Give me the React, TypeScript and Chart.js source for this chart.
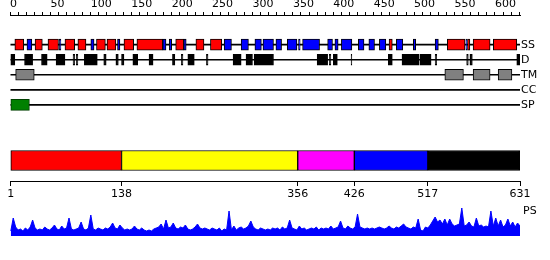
import React, { useEffect, useRef } from 'react';
import { Chart, registerables } from 'chart.js';

Chart.register(...registerables);

// ---------------- data ----------------
const SEQ_LENGTH = 631;
const trackNames = ['SS', 'D', 'TM', 'CC', 'SP'];

// secondary structure: helices (red) and strands (blue), [start, end] residues
const helices: [number, number][] = [
  [6, 17], [31, 40], [47, 60], [68, 80], [84, 94], [107, 118], [120, 131],
  [141, 153], [157, 189], [205, 215], [230, 240], [248, 262], [469, 473],
  [541, 563], [566, 569], [573, 594], [598, 627],
];
const strands: [number, number][] = [
  [21, 27], [61, 63], [100, 104], [133, 136], [189, 193], [197, 200],
  [215, 218], [265, 274], [286, 295], [303, 311], [313, 326], [329, 336],
  [343, 355], [357, 359], [362, 383], [393, 399], [402, 406], [410, 423],
  [431, 438], [444, 451], [457, 465], [478, 486], [499, 502], [526, 530],
  [564, 565],
];
// disordered regions
const disorder: [number, number][] = [
  [1, 6], [18, 28], [39, 46], [57, 68], [78, 80], [82, 84], [92, 108],
  [116, 119], [131, 134], [138, 141], [152, 158], [172, 177], [201, 204],
  [212, 214], [220, 228], [243, 245], [276, 286], [292, 300], [302, 326],
  [380, 393], [395, 397], [400, 405], [422, 423], [468, 473], [485, 506],
  [507, 521], [526, 528], [565, 567], [569, 572], [627, 631],
];
// transmembrane segments
const transmembrane: [number, number][] = [[7, 30], [538, 561], [573, 594], [604, 621]];
// coiled coils (none)
const coiledCoil: [number, number][] = [];
// signal peptide
const signalPeptide: [number, number][] = [[1, 24]];

// domain boundaries and colours
const domainBounds = [1, 138, 356, 426, 517, 631];
const domainColors = ['#ff0000', '#ffff00', '#ff00ff', '#0000ff', '#000000'];

// top ruler
const rulerStep = 10;
const rulerLabelStep = 50;
const rulerEnd = 630;

// PS profile, sampled every psStep residues starting at psStart
const psStart = 1;
const psStep = 3;
const psValues = [
  5, 18, 9, 6, 7, 5, 8, 6, 9, 16,
  8, 6, 7, 6, 9, 7, 6, 8, 11, 7,
  6, 10, 7, 8, 18, 7, 6, 7, 8, 14,
  7, 6, 8, 21, 7, 6, 8, 7, 6, 8,
  7, 9, 13, 8, 7, 11, 8, 6, 7, 6,
  7, 10, 7, 6, 8, 6, 5, 6, 5, 7,
  8, 9, 12, 7, 16, 8, 9, 13, 8, 7,
  9, 8, 11, 7, 6, 7, 9, 12, 8, 7,
  8, 7, 6, 8, 7, 6, 8, 5, 7, 6,
  25, 6, 10, 6, 8, 9, 7, 8, 10, 15,
  9, 7, 6, 8, 7, 6, 7, 6, 8, 7,
  8, 6, 9, 7, 8, 16, 8, 7, 6, 10,
  7, 8, 6, 7, 8, 7, 9, 6, 8, 7,
  8, 7, 10, 7, 8, 9, 15, 8, 7, 10,
  8, 7, 9, 22, 9, 8, 7, 8, 7, 8,
  7, 8, 9, 8, 7, 8, 10, 8, 7, 9,
  8, 10, 12, 9, 8, 7, 9, 8, 17, 6,
  5, 9, 8, 11, 15, 19, 14, 16, 12, 17,
  11, 17, 12, 10, 11, 12, 28, 10, 11, 14,
  10, 9, 18, 10, 11, 9, 10, 9, 25, 10,
  18, 10, 16, 9, 11, 17, 10, 14, 9, 13,
  10,
];

// ---------------- helpers ----------------
const FONT = { family: "'DejaVu Sans', sans-serif", size: 11 };
const X_MIN = 0;
const X_MAX = SEQ_LENGTH;

const segs = (list: [number, number][], track: number) =>
  list.map(([s, e]) => ({ x: [s, e], y: track }));

function useChart(ref: React.RefObject<HTMLCanvasElement>, make: (c: HTMLCanvasElement) => Chart) {
  useEffect(() => {
    if (!ref.current) return;
    const ch = make(ref.current);
    return () => ch.destroy();
  }, []);
}

const basePlugins = { legend: { display: false }, tooltip: { enabled: false } };

// fixed-width right axis without vertical label padding
const rightAxisFit = (w: number) => (s: any) => {
  s.width = w;
  s.paddingTop = 0;
  s.paddingBottom = 0;
};

function featuresChart(canvas: HTMLCanvasElement) {
  const box = (label: string, list: [number, number][], track: number, fill: string, border: string, thick: number) => ({
    label,
    data: segs(list, track),
    backgroundColor: fill,
    borderColor: border,
    borderWidth: 1,
    borderSkipped: false,
    barThickness: thick,
    order: 1,
  });
  return new Chart(canvas, {
    type: 'bar',
    data: {
      datasets: [
        {
          label: 'tracks',
          data: trackNames.map((_, i) => ({ x: [1, SEQ_LENGTH], y: i })),
          backgroundColor: '#000',
          borderWidth: 0,
          barThickness: 1,
          order: 10,
        },
        box('helix', helices, 0, '#ff0000', '#000', 11),
        box('strand', strands, 0, '#0000ff', '#000', 11),
        box('disorder', disorder, 1, '#000', '#000', 11),
        box('tm', transmembrane, 2, '#808080', '#000', 11),
        box('cc', coiledCoil, 3, '#808080', '#000', 11),
        box('sp', signalPeptide, 4, '#008000', '#004000', 11),
      ] as any,
    },
    options: {
      indexAxis: 'y',
      animation: false,
      responsive: false,
      datasets: { bar: { grouped: false } },
      layout: { padding: { left: 10, right: 0, top: 0, bottom: 0 } },
      plugins: basePlugins,
      scales: {
        x: {
          type: 'linear',
          position: 'top',
          min: X_MIN,
          max: X_MAX,
          afterBuildTicks: (s: any) => {
            const t = [];
            for (let v = 0; v <= rulerEnd; v += rulerStep) t.push({ value: v });
            s.ticks = t;
          },
          afterFit: (s: any) => { s.height = 15; },
          grid: { drawOnChartArea: false, tickLength: 3, color: '#000' },
          border: { color: '#000' },
          ticks: {
            align: 'start',
            padding: 1,
            maxRotation: 0,
            autoSkip: false,
            color: '#000',
            font: FONT,
            callback: (v: any) => (v % rulerLabelStep === 0 ? String(v) : ''),
          },
        },
        y: {
          type: 'linear',
          position: 'right',
          reverse: true,
          offset: false,
          min: -1.9667,
          max: 5,
          afterBuildTicks: (s: any) => { s.ticks = trackNames.map((_, i) => ({ value: i })); },
          afterFit: rightAxisFit(30),
          grid: { display: false, drawTicks: false },
          border: { display: false },
          ticks: { padding: 1, color: '#000', font: FONT, callback: (v: any) => trackNames[v] ?? '' },
        },
      },
    } as any,
  });
}

function domainChart(canvas: HTMLCanvasElement) {
  return new Chart(canvas, {
    type: 'bar',
    data: {
      datasets: [
        {
          data: domainColors.map((_, i) => ({ x: [domainBounds[i], domainBounds[i + 1]], y: 0.5 })),
          backgroundColor: domainColors,
          borderColor: '#000',
          borderWidth: 1,
          borderSkipped: false,
          barThickness: 20,
        },
      ] as any,
    },
    options: {
      indexAxis: 'y',
      animation: false,
      responsive: false,
      layout: { padding: { left: 10, right: 30, top: 0, bottom: 0 } },
      plugins: basePlugins,
      scales: {
        x: {
          type: 'linear',
          position: 'bottom',
          min: X_MIN,
          max: X_MAX,
          afterBuildTicks: (s: any) => { s.ticks = domainBounds.map((v) => ({ value: v })); },
          afterFit: (s: any) => { s.height = 23; },
          grid: { drawOnChartArea: false, tickLength: 5, color: '#000' },
          border: { color: '#000' },
          ticks: { padding: 2, maxRotation: 0, autoSkip: false, color: '#000', font: FONT, callback: (v: any) => String(v) },
        },
        y: { type: 'linear', min: 0, max: 1, offset: false, display: false },
      },
    } as any,
  });
}

function psChart(canvas: HTMLCanvasElement) {
  return new Chart(canvas, {
    type: 'line',
    data: {
      datasets: [
        {
          data: psValues.map((v, i) => ({ x: psStart + i * psStep, y: v })),
          fill: 'origin',
          backgroundColor: '#0000ff',
          borderColor: '#0000ff',
          borderWidth: 1,
          pointRadius: 0,
          tension: 0,
        },
      ] as any,
    },
    options: {
      animation: false,
      responsive: false,
      layout: { padding: { left: 10, right: 0, top: 6, bottom: 4 } },
      plugins: basePlugins,
      scales: {
        x: { type: 'linear', min: X_MIN, max: X_MAX, display: false },
        y: {
          type: 'linear',
          position: 'right',
          min: 0,
          max: 30,
          afterBuildTicks: (s: any) => { s.ticks = [{ value: 25 }]; },
          afterFit: rightAxisFit(30),
          grid: { display: false, drawTicks: false },
          border: { display: false },
          ticks: { padding: 3, color: '#000', font: FONT, callback: () => 'PS' },
        },
      },
    } as any,
  });
}

export default function App() {
  const r1 = useRef<HTMLCanvasElement>(null);
  const r2 = useRef<HTMLCanvasElement>(null);
  const r3 = useRef<HTMLCanvasElement>(null);
  useChart(r1, featuresChart);
  useChart(r2, domainChart);
  useChart(r3, psChart);
  const abs = (top: number): React.CSSProperties => ({ position: 'absolute', left: 0, top });
  return (
    <div style={{ position: 'absolute', left: 0, top: 0, width: 550, height: 260, background: '#fff' }}>
      <canvas ref={r1} width={550} height={120} style={abs(0)} />
      <canvas ref={r2} width={550} height={64} style={abs(140)} />
      <canvas ref={r3} width={550} height={40} style={abs(200)} />
    </div>
  );
}
